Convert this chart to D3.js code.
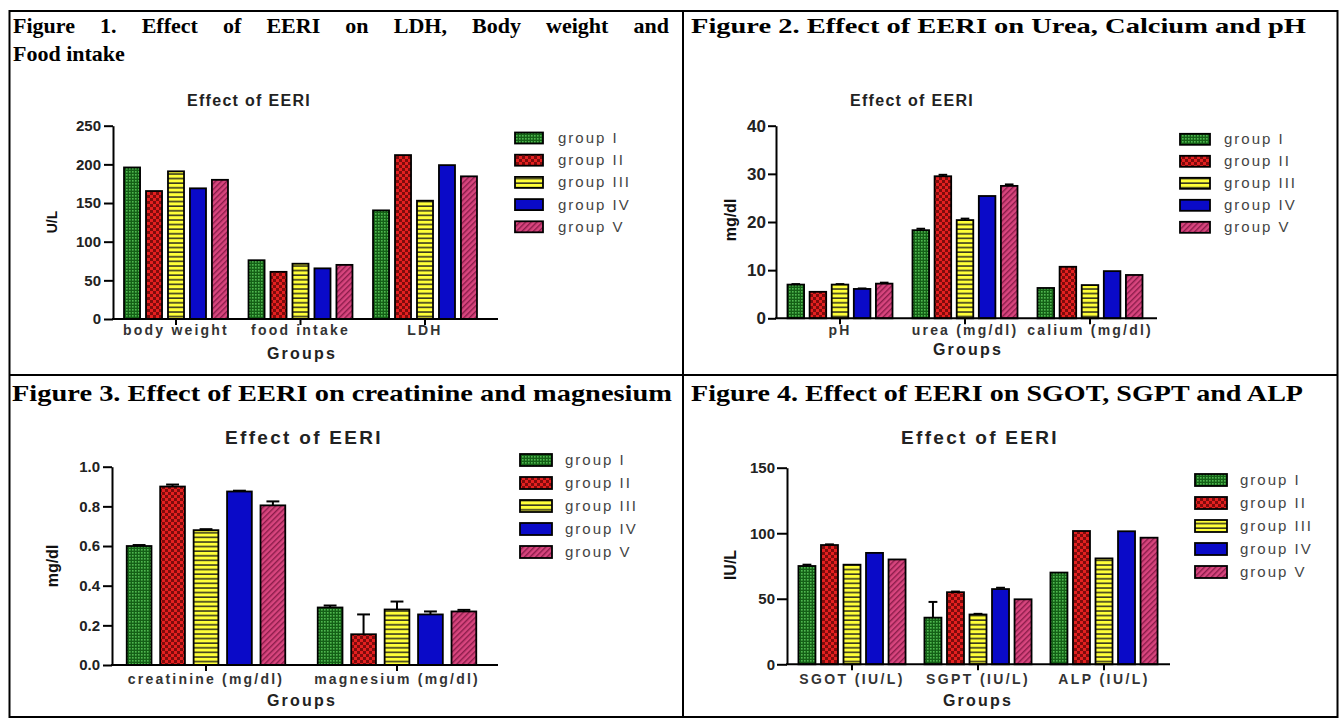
<!DOCTYPE html>
<html><head><meta charset="utf-8">
<script src="https://cdn.jsdelivr.net/npm/d3@7"></script>
<style>body{margin:0;background:#fff}svg{display:block}</style>
</head><body>
<svg id="c" width="1343" height="721"></svg>
<script>
// ---------- DATA ----------
const groups = ["group I", "group II", "group III", "group IV", "group V"];

const fig1Cats = ["body weight", "food intake", "LDH"];
const fig1Values = [[196, 76, 140.5], [165.5, 61, 212], [191, 71.5, 153], [169, 65.5, 199], [180, 70, 184.5]];
const fig1Errors = [[0, 0, 0], [0, 0, 0], [0, 0, 0], [0, 0, 0], [0, 0, 0]];
const fig1Ticks = [0, 50, 100, 150, 200, 250];

const fig2Cats = ["pH", "urea (mg/dl)", "calium (mg/dl)"];
const fig2Values = [[7.0, 18.3, 6.3], [5.5, 29.5, 10.7], [7.0, 20.4, 6.9], [6.1, 25.4, 9.8], [7.2, 27.5, 9.0]];
const fig2Errors = [[0.1, 0.3, 0], [0, 0.3, 0], [0.1, 0.3, 0], [0.1, 0, 0], [0.2, 0.3, 0]];
const fig2Ticks = [0, 10, 20, 30, 40];

const fig3Cats = ["creatinine (mg/dl)", "magnesium (mg/dl)"];
const fig3Values = [[0.60, 0.29], [0.90, 0.155], [0.68, 0.28], [0.875, 0.255], [0.805, 0.27]];
const fig3Errors = [[0.005, 0.01], [0.01, 0.10], [0.005, 0.04], [0.004, 0.015], [0.02, 0.008]];
const fig3Ticks = [0, 0.2, 0.4, 0.6, 0.8, 1.0];

const fig4Cats = ["SGOT (IU/L)", "SGPT (IU/L)", "ALP (IU/L)"];
const fig4Values = [[75, 35.6, 70], [91, 55, 101.7], [76, 38, 80.8], [85, 57.4, 101.5], [80, 49.6, 96.6]];
const fig4Errors = [[1, 12, 0], [0.5, 0.5, 0], [0, 0.5, 0], [0, 1, 0], [0, 0, 0]];
const fig4Ticks = [0, 50, 100, 150];

const headings = [
  "Figure 1. Effect of EERI on LDH, Body weight and",
  "Food intake",
  "Figure 2. Effect of EERI on Urea, Calcium and pH",
  "Figure 3. Effect of EERI on creatinine and magnesium",
  "Figure 4. Effect of EERI on SGOT, SGPT and ALP"
];
const chartTitle = "Effect of EERI";
const xTitle = "Groups";
const yTitles = ["U/L", "mg/dl", "mg/dl", "IU/L"];

// ---------- SETUP ----------
const svg = d3.select("#c");
const defs = svg.append("defs");
const SANS = "'Liberation Sans', Arial, sans-serif";
const SERIF = "'Liberation Serif', 'Times New Roman', serif";

(function () {
  let p = defs.append("pattern").attr("id", "p0").attr("patternUnits", "userSpaceOnUse").attr("width", 3).attr("height", 3);
  p.append("rect").attr("width", 3).attr("height", 3).attr("fill", "#146016");
  p.append("rect").attr("width", 1.6).attr("height", 1.6).attr("fill", "#4fb84f");

  p = defs.append("pattern").attr("id", "p1").attr("patternUnits", "userSpaceOnUse").attr("width", 6).attr("height", 6);
  p.append("rect").attr("width", 6).attr("height", 6).attr("fill", "#e42020");
  p.append("rect").attr("width", 3).attr("height", 3).attr("fill", "#7e0c0c");
  p.append("rect").attr("x", 3).attr("y", 3).attr("width", 3).attr("height", 3).attr("fill", "#7e0c0c");

  p = defs.append("pattern").attr("id", "p2").attr("patternUnits", "userSpaceOnUse").attr("width", 4).attr("height", 4.6);
  p.append("rect").attr("width", 4).attr("height", 4.6).attr("fill", "#ffff38");
  p.append("rect").attr("y", 3).attr("width", 4).attr("height", 1.6).attr("fill", "#3a3a20");

  p = defs.append("pattern").attr("id", "p3").attr("patternUnits", "userSpaceOnUse").attr("width", 4).attr("height", 4);
  p.append("rect").attr("width", 4).attr("height", 4).attr("fill", "#0a0ac8");

  p = defs.append("pattern").attr("id", "p4").attr("patternUnits", "userSpaceOnUse").attr("width", 4).attr("height", 4)
    .attr("patternTransform", "rotate(45)");
  p.append("rect").attr("width", 4).attr("height", 4).attr("fill", "#d8457e");
  p.append("rect").attr("width", 1.4).attr("height", 4).attr("fill", "#8a1c4a");
})();
const fills = groups.map((g, i) => `url(#p${i})`);

svg.append("rect").attr("width", 1343).attr("height", 721).attr("fill", "#fff");

// ---------- TABLE ----------
const tbl = svg.append("g").attr("stroke", "#000").attr("stroke-width", 2);
tbl.append("rect").attr("x", 9.5).attr("y", 11).attr("width", 1328).attr("height", 706).attr("fill", "none");
tbl.append("line").attr("x1", 683).attr("x2", 683).attr("y1", 11).attr("y2", 717);
tbl.append("line").attr("x1", 9.5).attr("x2", 1337.5).attr("y1", 375).attr("y2", 375);

// ---------- HEADINGS ----------
function justified(txt, x, y, size, width) {
  const words = txt.split(" ");
  const g = svg.append("g");
  const nodes = words.map(w => g.append("text").attr("y", y).attr("font-family", SERIF)
    .attr("font-weight", "bold").attr("font-size", size).text(w));
  const widths = nodes.map(n => n.node().getComputedTextLength());
  const gap = (width - d3.sum(widths)) / (words.length - 1);
  let cx = x;
  nodes.forEach((n, i) => { n.attr("x", cx); cx += widths[i] + gap; });
}
function heading(txt, x, y, size, width) {
  const t = svg.append("text").attr("x", x).attr("y", y).attr("font-family", SERIF)
    .attr("font-weight", "bold").attr("font-size", size).text(txt);
  if (width) t.attr("textLength", width).attr("lengthAdjust", "spacingAndGlyphs");
}
justified(headings[0], 13, 33, 22, 656);
heading(headings[1], 13, 61, 22);
heading(headings[2], 691, 33, 22, 615);
heading(headings[3], 12, 401, 24, 660);
heading(headings[4], 691, 401, 24, 612);

// ---------- CHART ----------
function chart(c) {
  const g = svg.append("g");
  const n = c.cats.length;
  const x = d3.scaleBand().domain(c.cats).range([c.x0, c.x0 + c.step * n])
    .paddingInner(c.opad).paddingOuter(c.opad / 2);
  const xi = d3.scaleBand().domain(groups).range([0, x.bandwidth()]).paddingInner(c.ipad);
  const y = d3.scaleLinear().domain([0, c.ymax]).range([c.y0, c.yTop]);

  const rows = [];
  groups.forEach((gr, gi) => c.cats.forEach((cat, ci) =>
    rows.push({ gr, gi, cat, v: c.values[gi][ci], e: c.errors[gi][ci] })));

  const eb = g.append("g").attr("stroke", "#000").attr("stroke-width", 2);
  rows.filter(d => d.e > 0).forEach(d => {
    const cx = x(d.cat) + xi(d.gr) + xi.bandwidth() / 2;
    const cw = xi.bandwidth() * 0.26;
    eb.append("line").attr("x1", cx).attr("x2", cx).attr("y1", y(d.v)).attr("y2", y(d.v + d.e));
    eb.append("line").attr("x1", cx - cw).attr("x2", cx + cw).attr("y1", y(d.v + d.e)).attr("y2", y(d.v + d.e));
  });

  g.append("g").selectAll("rect").data(rows).join("rect")
    .attr("x", d => x(d.cat) + xi(d.gr))
    .attr("y", d => y(d.v))
    .attr("width", xi.bandwidth())
    .attr("height", d => y(0) - y(d.v))
    .attr("fill", d => fills[d.gi])
    .attr("stroke", "#000").attr("stroke-width", 1.8);

  const ya = g.append("g").attr("transform", `translate(${c.axX0},0)`)
    .call(d3.axisLeft(y).tickValues(c.ticks).tickSize(c.tickLen).tickSizeOuter(0)
      .tickPadding(c.tickPad).tickFormat(c.fmt));
  ya.select(".domain").attr("stroke", "#000").attr("stroke-width", 2);
  ya.selectAll(".tick line").attr("stroke", "#000").attr("stroke-width", 2);
  ya.selectAll(".tick text").attr("font-family", SANS).attr("font-weight", "bold")
    .attr("font-size", c.tickFont).attr("fill", "#222");

  const xa = g.append("g").attr("transform", `translate(0,${c.y0})`)
    .call(d3.axisBottom(x).tickSize(6).tickSizeOuter(0).tickPadding(c.xPad));
  xa.select(".domain").remove();
  xa.selectAll(".tick line").attr("stroke", "#000").attr("stroke-width", 2);
  xa.selectAll(".tick text").attr("font-family", SANS).attr("font-weight", "bold")
    .attr("font-size", 14).attr("letter-spacing", c.xls).attr("fill", "#333");
  g.append("line").attr("x1", c.axX0 - 1).attr("x2", c.axX1).attr("y1", c.y0).attr("y2", c.y0)
    .attr("stroke", "#000").attr("stroke-width", 2);

  g.append("text").attr("x", c.titleX).attr("y", c.titleY).attr("text-anchor", "middle")
    .attr("font-family", SANS).attr("font-weight", "bold").attr("font-size", c.titleSize)
    .attr("letter-spacing", c.titleLs).attr("fill", "#222").text(chartTitle);
  g.append("text").attr("x", c.groupsX).attr("y", c.groupsY).attr("text-anchor", "middle")
    .attr("font-family", SANS).attr("font-weight", "bold").attr("font-size", 16)
    .attr("letter-spacing", 2.2).attr("fill", "#222").text(xTitle);
  g.append("text").attr("transform", `translate(${c.yLabX},${c.yLabY}) rotate(-90)`)
    .attr("text-anchor", "middle").attr("font-family", SANS).attr("font-weight", "bold")
    .attr("font-size", c.yLabSize).attr("fill", "#111").text(c.yTitle);

  const lg = g.append("g");
  groups.forEach((gr, i) => {
    const cy = c.legY + i * c.legDy;
    lg.append("rect").attr("x", c.legX).attr("y", cy - c.swH / 2).attr("width", c.swW).attr("height", c.swH)
      .attr("fill", fills[i]).attr("stroke", "#000").attr("stroke-width", 1.8);
    lg.append("text").attr("x", c.legTX).attr("y", cy + 5).attr("font-family", SANS)
      .attr("font-size", 15).attr("letter-spacing", 2).attr("fill", "#444").text(gr);
  });
}

chart({ cats: fig1Cats, values: fig1Values, errors: fig1Errors, ticks: fig1Ticks, ymax: 250, fmt: d3.format("d"),
  x0: 113.75, step: 124.5, opad: 0.165, ipad: 0.27, axX0: 113, axX1: 498, y0: 319, yTop: 125.7,
  tickLen: 9, tickPad: 3, tickFont: 15, xPad: 0, xls: 2.2,
  titleX: 249, titleY: 105.5, titleSize: 16, titleLs: 1.3, groupsX: 302, groupsY: 359,
  yLabX: 57, yLabY: 222, yLabSize: 14, yTitle: yTitles[0],
  legX: 515, legY: 138, legDy: 22.2, swW: 28, swH: 11, legTX: 558 });

chart({ cats: fig2Cats, values: fig2Values, errors: fig2Errors, ticks: fig2Ticks, ymax: 40, fmt: d3.format("d"),
  x0: 777.5, step: 125, opad: 0.16, ipad: 0.25, axX0: 776, axX1: 1157, y0: 318.3, yTop: 125.7,
  tickLen: 8, tickPad: 2, tickFont: 17, xPad: 1, xls: 2.2,
  titleX: 912, titleY: 105.5, titleSize: 16, titleLs: 1.3, groupsX: 968, groupsY: 355,
  yLabX: 736, yLabY: 220, yLabSize: 16, yTitle: yTitles[1],
  legX: 1180, legY: 139.3, legDy: 22, swW: 30, swH: 11, legTX: 1224 });

chart({ cats: fig3Cats, values: fig3Values, errors: fig3Errors, ticks: fig3Ticks, ymax: 1.0, fmt: d3.format(".1f"),
  x0: 110.5, step: 191, opad: 0.17, ipad: 0.26, axX0: 112, axX1: 498, y0: 665, yTop: 466.7,
  tickLen: 9, tickPad: 3, tickFont: 15, xPad: 3, xls: 2.2,
  titleX: 304, titleY: 444, titleSize: 19, titleLs: 2.3, groupsX: 302, groupsY: 706,
  yLabX: 58, yLabY: 566, yLabSize: 16, yTitle: yTitles[2],
  legX: 520, legY: 460, legDy: 23, swW: 32, swH: 12, legTX: 565 });

chart({ cats: fig4Cats, values: fig4Values, errors: fig4Errors, ticks: fig4Ticks, ymax: 150, fmt: d3.format("d"),
  x0: 789, step: 126, opad: 0.15, ipad: 0.245, axX0: 787, axX1: 1170, y0: 664.3, yTop: 467.7,
  tickLen: 10, tickPad: 2, tickFont: 15, xPad: 4, xls: 2.4,
  titleX: 980, titleY: 444, titleSize: 19, titleLs: 2.3, groupsX: 978, groupsY: 706,
  yLabX: 736, yLabY: 565, yLabSize: 16, yTitle: yTitles[3],
  legX: 1195, legY: 480, legDy: 23, swW: 32, swH: 12, legTX: 1240 });
</script>
</body></html>
